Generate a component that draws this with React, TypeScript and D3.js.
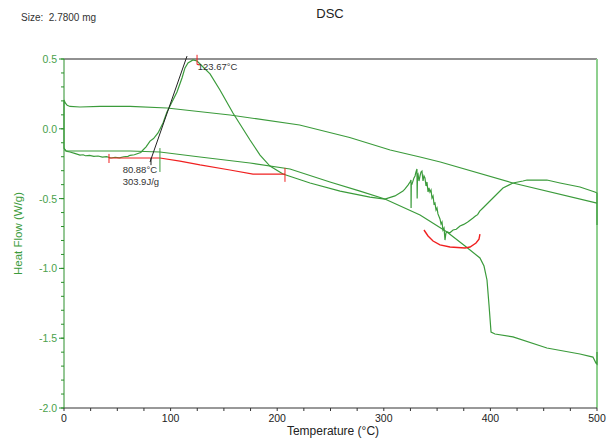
import React from "react";
import * as d3 from "d3";

type P = [number, number];

const xMajorTicks = [0, 100, 200, 300, 400, 500];
const yMajorTicks = [-2.0, -1.5, -1.0, -0.5, 0.0, 0.5];

// Upper (flat, cooling-like) trace
const upperCurve: P[] = [
  [0, -0.138], [0, 0.206], [1.2, 0.185], [3, 0.168], [5.6, 0.16], [15, 0.156], [33.8, 0.16],
  [62, 0.16], [96.6, 0.149], [155.7, 0.099], [221, 0.027], [268, -0.062],
  [306, -0.152], [334, -0.202], [353, -0.238], [421, -0.388], [500, -0.532],
];

// Main noisy heating trace
const heatCurve: P[] = [
  [0, -0.138], [1.2, -0.155], [3, -0.162], [5.6, -0.166], [10, -0.176], [15, -0.188],
  [18, -0.186], [20, -0.193], [24, -0.19], [28, -0.198], [32, -0.195], [36, -0.203],
  [40, -0.2], [44, -0.209], [48, -0.204], [52, -0.208], [56, -0.2], [60, -0.197],
  [62, -0.19], [66, -0.186], [70, -0.175], [72, -0.17], [74.1, -0.152], [77, -0.13],
  [80.7, -0.088], [84, -0.07], [88.2, -0.03], [92.9, 0.042], [96.6, 0.12],
  [101.3, 0.192], [106, 0.264], [110.7, 0.364], [113.5, 0.436], [116.3, 0.471],
  [121, 0.493], [124.8, 0.486], [129.5, 0.45], [137, 0.393], [146.3, 0.278],
  [158.5, 0.113], [174.5, -0.08], [183.9, -0.188], [193.2, -0.267], [205.4, -0.324],
  [230.8, -0.388], [259, -0.446], [287, -0.489], [301, -0.503], [310.5, -0.481],
  [318, -0.446], [319.9, -0.431], [322.7, -0.403], [324.6, -0.381], [325.5, -0.367],
  [325.6, -0.567], [325.8, -0.39], [326.5, -0.395], [328.3, -0.352], [329.3, -0.338],
  [330.2, -0.309], [331.1, -0.288], [331.3, -0.5], [331.6, -0.33], [332.1, -0.324],
  [333, -0.374], [334, -0.338], [334.9, -0.309], [335.8, -0.302], [336.8, -0.374],
  [337.7, -0.338], [338.6, -0.352], [339.6, -0.41], [340.5, -0.381], [341.5, -0.453],
  [342.4, -0.424], [343.3, -0.453], [344.3, -0.438], [345.2, -0.496], [346.2, -0.481],
  [347.1, -0.539], [348, -0.532], [349, -0.582], [349.9, -0.567], [350.8, -0.61],
  [352.7, -0.646], [353.7, -0.682], [354.6, -0.668], [355.5, -0.725], [356.5, -0.711],
  [357.4, -0.797], [358.3, -0.746], [359.3, -0.739], [362, -0.745], [365, -0.725],
  [368, -0.72], [371.5, -0.696], [375, -0.685], [378, -0.672], [380, -0.66],
  [383.7, -0.639], [386, -0.625], [388, -0.615], [390, -0.59], [393, -0.567],
  [402.4, -0.496], [411.8, -0.424], [421.2, -0.388], [430.6, -0.374], [434.3, -0.367],
  [453, -0.367], [465.3, -0.388], [484, -0.417], [498, -0.453], [500, -0.46], [500, -0.689],
];

// Lower trace with the step near 400 °C
const lowerCurve: P[] = [
  [0, -0.138], [1.9, -0.159], [10.3, -0.159], [33.8, -0.159], [62, -0.159], [90, -0.166],
  [127.6, -0.202], [174.5, -0.245], [212, -0.288], [249.5, -0.381], [277.7, -0.446],
  [301, -0.503], [334, -0.618], [359.3, -0.739], [376.2, -0.84], [390.2, -0.925],
  [394, -0.983], [396.8, -1.083], [398.7, -1.262], [400.6, -1.456], [404.3, -1.47],
  [421.2, -1.491], [453, -1.57], [484, -1.613], [496.2, -1.635], [499, -1.678],
  [500, -1.685], [500, -1.599],
];

// Integration baseline (red)
const baselineRed: P[] = [
  [42.2, -0.209], [90, -0.209], [108.8, -0.231], [127.6, -0.259], [155.7, -0.295],
  [177.3, -0.324], [207.3, -0.324],
];

// Red arc under the 360 °C minimum
const arcRed: P[] = [
  [337.7, -0.725], [341.5, -0.768], [346.2, -0.804], [352.7, -0.832], [362.1, -0.847],
  [376.2, -0.854], [380.9, -0.847], [386.5, -0.818], [389.3, -0.79], [390.2, -0.754],
];

// Onset tangent (black)
const tangentLine: P[] = [[80.7, -0.238], [115.4, 0.521]];

const peakTemp = "123.67°C";
const onsetTemp = "80.88°C";
const enthalpy = "303.9J/g";

const W = 613;
const H = 438;
const FONT = "'Liberation Sans', Arial, sans-serif";
const GREEN = "#3b9b3b";

export default function App() {
  const x = d3.scaleLinear().domain([0, 500]).range([64, 597]);
  const y = d3.scaleLinear().domain([-2, 0.5]).range([408, 59]);
  const line = d3.line<P>().x((d) => x(d[0])).y((d) => y(d[1]));

  const xMinor = d3.range(0, 501, 25);
  const yMinor = d3.range(-20, 6, 1).map((v) => v / 10);

  return (
    <div style={{ position: "absolute", left: 0, top: 0 }}>
      <svg width={W} height={H} style={{ display: "block", background: "#fff" }}>
        <text x={21} y={21} fontFamily={FONT} fontSize={10} fill="#333">
          Size:{"\u00a0\u00a0"}2.7800 mg
        </text>
        <text x={330} y={18} fontFamily={FONT} fontSize={13} fill="#222" textAnchor="middle">
          DSC
        </text>

        {/* frame */}
        <line x1={x(0)} x2={x(500)} y1={y(0.5)} y2={y(0.5)} stroke="#222" strokeWidth={1} />
        <line x1={x(500)} x2={x(500)} y1={y(0.5)} y2={y(-2)} stroke="#8fd08f" strokeWidth={2} />
        <line x1={x(0)} x2={x(500)} y1={y(-2)} y2={y(-2)} stroke="#333" strokeWidth={1} />
        <line x1={x(0)} x2={x(0)} y1={y(0.5)} y2={y(-2)} stroke="#2a8f2a" strokeWidth={1} />

        {/* y ticks */}
        {yMinor.map((v) => (
          <line key={"ym" + v} x1={x(0) - 3} x2={x(0)} y1={y(v)} y2={y(v)} stroke="#2a8f2a" strokeWidth={1} />
        ))}
        {yMajorTicks.map((v) => (
          <g key={"yM" + v}>
            <line x1={x(0) - 5} x2={x(0)} y1={y(v)} y2={y(v)} stroke="#2a8f2a" strokeWidth={1} />
            <text x={x(0) - 7} y={y(v) + 4} fontFamily={FONT} fontSize={10.5} fill="#4a9f4a" textAnchor="end">
              {v.toFixed(1)}
            </text>
          </g>
        ))}

        {/* x ticks */}
        {xMinor.map((v) => (
          <line key={"xm" + v} x1={x(v)} x2={x(v)} y1={y(-2)} y2={y(-2) + 3} stroke="#333" strokeWidth={1} />
        ))}
        {xMajorTicks.map((v) => (
          <text key={"xM" + v} x={x(v)} y={y(-2) + 14} fontFamily={FONT} fontSize={10.5} fill="#222" textAnchor="middle">
            {v}
          </text>
        ))}

        <text
          transform={`translate(22, ${(y(0.5) + y(-2)) / 2}) rotate(-90)`}
          fontFamily={FONT}
          fontSize={11.5}
          fill={GREEN}
          textAnchor="middle"
        >
          Heat Flow (W/g)
        </text>
        <text x={333} y={434.5} fontFamily={FONT} fontSize={12} fill="#222" textAnchor="middle">
          Temperature (°C)
        </text>

        {/* traces */}
        <path d={line(upperCurve) ?? ""} fill="none" stroke={GREEN} strokeWidth={1.2} />
        <path d={line(lowerCurve) ?? ""} fill="none" stroke={GREEN} strokeWidth={1.2} />
        <path d={line(heatCurve) ?? ""} fill="none" stroke={GREEN} strokeWidth={1.2} />

        {/* analysis marks */}
        <path d={line(baselineRed) ?? ""} fill="none" stroke="#f02020" strokeWidth={1.2} />
        <line x1={x(42.2)} x2={x(42.2)} y1={y(-0.18)} y2={y(-0.245)} stroke="#f02020" strokeWidth={1} />
        <line x1={x(207.3)} x2={x(207.3)} y1={y(-0.28)} y2={y(-0.38)} stroke="#f02020" strokeWidth={1} />
        <path d={line(arcRed) ?? ""} fill="none" stroke="#f02020" strokeWidth={1.4} />
        <line x1={x(124.8)} x2={x(124.8)} y1={y(0.53)} y2={y(0.46)} stroke="#f02020" strokeWidth={1} />
        <line x1={x(124.8)} x2={x(127)} y1={y(0.46)} y2={y(0.46)} stroke="#f02020" strokeWidth={1} />
        <path d={line(tangentLine) ?? ""} fill="none" stroke="#222" strokeWidth={1} />
        <line x1={x(81.6)} x2={x(81.6)} y1={y(-0.21)} y2={y(-0.26)} stroke="#222" strokeWidth={1} />
        <line x1={x(90)} x2={x(90)} y1={y(-0.138)} y2={y(-0.309)} stroke={GREEN} strokeWidth={1} />

        <text x={x(125.4)} y={y(0.42)} fontFamily={FONT} fontSize={9.5} fill="#333">
          {peakTemp}
        </text>
        <text x={x(55)} y={y(-0.32)} fontFamily={FONT} fontSize={9.5} fill="#333">
          {onsetTemp}
        </text>
        <text x={x(55)} y={y(-0.4)} fontFamily={FONT} fontSize={9.5} fill="#333">
          {enthalpy}
        </text>
      </svg>
    </div>
  );
}
